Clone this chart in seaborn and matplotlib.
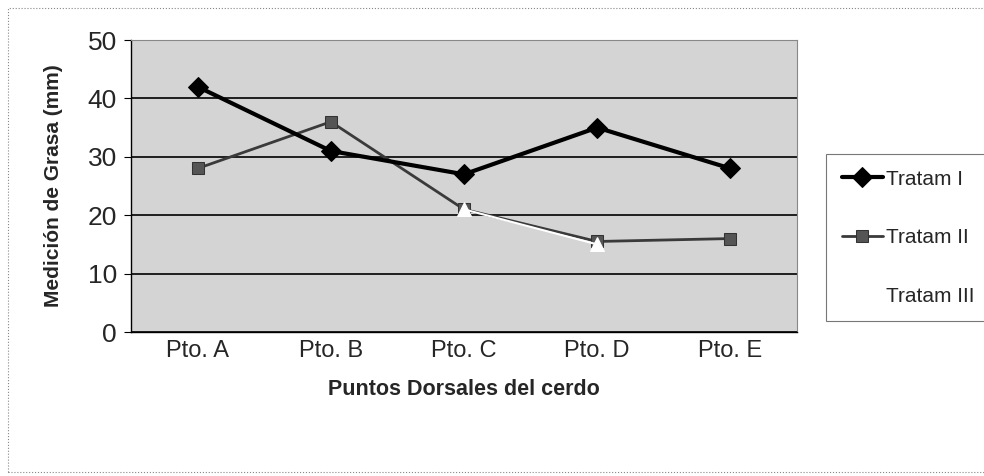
import numpy as np
import matplotlib
matplotlib.use("Agg")
import matplotlib.pyplot as plt
import seaborn as sns
import pandas as pd
from matplotlib.patches import Rectangle

# datos
puntos = ["Pto. A", "Pto. B", "Pto. C", "Pto. D", "Pto. E"]
tratam_1 = [42, 31, 27, 35, 28]
tratam_2 = [28, 36, 21, 15.5, 16]
tratam_3 = [np.nan, np.nan, 21, 15, np.nan]
series_names = ["Tratam I", "Tratam II", "Tratam III"]
y_ticks = [0, 10, 20, 30, 40, 50]

sns.set_style("white")
plt.rcParams["font.family"] = ["Liberation Sans", "DejaVu Sans"]

fig = plt.figure(figsize=(9.84, 4.76), dpi=100)
ax = fig.add_axes([131 / 984, 1 - 332 / 476, (797 - 131) / 984, (332 - 40) / 476])
ax.set_facecolor("#d4d4d4")

x = np.arange(len(puntos))
df = pd.DataFrame({"x": x, "t1": tratam_1, "t2": tratam_2, "t3": tratam_3})

sns.lineplot(data=df, x="x", y="t1", ax=ax, color="black", lw=3, marker="D",
             markersize=10, markeredgecolor="black", label=series_names[0], zorder=4)
sns.lineplot(data=df, x="x", y="t2", ax=ax, color="#3a3a3a", lw=2, marker="s",
             markersize=9, markerfacecolor="#555555", markeredgecolor="#333333",
             label=series_names[1], zorder=3)
sns.lineplot(data=df.dropna(), x="x", y="t3", ax=ax, color="white", lw=1.5, marker="^",
             markersize=10, markeredgecolor="white", label=series_names[2], zorder=5)

ax.set_xlim(-0.5, len(puntos) - 0.5)
ax.set_ylim(0, 50)
ax.set_yticks(y_ticks)
ax.set_yticklabels([str(v) for v in y_ticks], fontsize=19)
ax.set_xticks(x)
ax.set_xticklabels(puntos, fontsize=17)
ax.set_xticks(np.arange(-0.5, len(puntos)), minor=True)
ax.tick_params(axis="x", which="major", length=0, pad=6)
ax.tick_params(axis="x", which="minor", length=5, direction="out", color="black")
ax.tick_params(axis="y", length=5, direction="out", color="black", left=True, pad=5)
ax.yaxis.grid(True, color="black", lw=1.2)
ax.set_axisbelow(True)
for s in ["top", "right"]:
    ax.spines[s].set_color("#888888")
    ax.spines[s].set_linewidth(0.8)
for s in ["left", "bottom"]:
    ax.spines[s].set_color("black")
    ax.spines[s].set_linewidth(1)

ax.set_xlabel("Puntos Dorsales del cerdo", fontsize=15.5, fontweight="bold", labelpad=12)
ax.set_ylabel("Medición de Grasa (mm)", fontsize=15, fontweight="bold", labelpad=18)

leg = ax.legend(loc="upper left", bbox_to_anchor=(826 / 984, 1 - 154 / 476),
                bbox_transform=fig.transFigure, fontsize=15, frameon=True,
                fancybox=False, labelspacing=1.9, handlelength=2.0,
                handletextpad=0.15, borderpad=0.75, borderaxespad=0)
leg.get_frame().set_edgecolor("#555555")
leg.get_frame().set_linewidth(0.8)

fig.patches.append(Rectangle((8 / 984, 1 - 472 / 476), 1.0, 464 / 476, transform=fig.transFigure,
                             fill=False, edgecolor="#888888", lw=0.8, ls=":"))

fig.savefig("out.png", dpi=100)
